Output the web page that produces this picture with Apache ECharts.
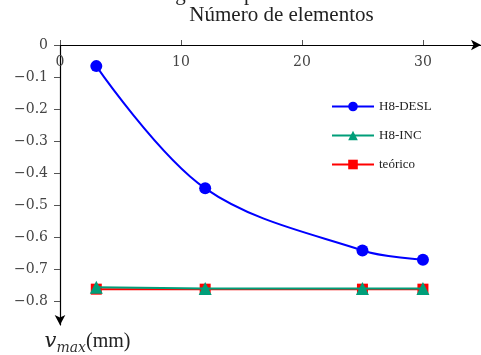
<!DOCTYPE html>
<html>
<head>
<meta charset="utf-8">
<script src="https://cdn.jsdelivr.net/npm/echarts@6/dist/echarts.min.js"></script>
<style>
html,body{margin:0;padding:0;background:#fff;}
#chart{width:481px;height:355px;}
</style>
</head>
<body>
<div id="chart"></div>
<script>
var elementos = [3, 12, 25, 30];
var h8Desl = [-0.066, -0.448, -0.642, -0.671];
var h8Inc = [-0.757, -0.761, -0.761, -0.761];
var teorico = [-0.763, -0.763, -0.763, -0.763];
var xTicks = [0, 10, 20, 30];
var yTicks = [0, -0.1, -0.2, -0.3, -0.4, -0.5, -0.6, -0.7, -0.8];
var seriesNames = ['H8-DESL', 'H8-INC', 'teórico'];

function pairs(xs, ys) { return xs.map(function (x, i) { return [x, ys[i]]; }); }

var font = '"Liberation Serif", "DejaVu Serif", serif';
var numFont = '"DejaVu Serif", serif';
var chart = echarts.init(document.getElementById('chart'));
chart.setOption({
  animation: false,
  backgroundColor: '#fff',
  grid: { left: 60, top: 44, right: 0, bottom: 27 },
  graphic: [{
    type: 'text', left: 150, top: -16,
    style: { text: 'carga de superfície', font: '21px ' + font, fill: '#222' }
  }],
  legend: {
    orient: 'vertical', left: 326, top: 95,
    itemWidth: 42, itemHeight: 12, itemGap: 16,
    textStyle: { fontFamily: font, fontSize: 13, color: '#222' },
    data: seriesNames
  },
  xAxis: {
    type: 'value', position: 'top', min: 0, max: 34.8,
    name: 'Número de elementos', nameLocation: 'middle', nameGap: 19,
    nameTextStyle: { fontFamily: font, fontSize: 21, color: '#222', padding: [0, 0, 0, 22] },
    axisLine: { onZero: false, lineStyle: { color: '#000', width: 1.2 }, symbol: ['none', 'arrow'], symbolSize: [8, 10] },
    axisTick: { inside: false, length: 5, lineStyle: { color: '#555' }, customValues: xTicks },
    axisLabel: { inside: true, margin: 10, fontFamily: numFont, fontSize: 14, color: '#444', customValues: xTicks },
    splitLine: { show: false }
  },
  yAxis: {
    type: 'value', min: -0.875, max: 0,
    name: '{v|v}{s|max}{n|(mm)}', nameLocation: 'start', nameGap: 6,
    nameTextStyle: {
      padding: [0, 0, 0, 55],
      rich: {
        v: { fontFamily: numFont, fontStyle: 'italic', fontSize: 21, color: '#222' },
        s: { fontFamily: numFont, fontStyle: 'italic', fontSize: 14, color: '#333', verticalAlign: 'bottom', padding: [0, 0, -3, 0] },
        n: { fontFamily: font, fontSize: 20, color: '#222' }
      }
    },
    axisLine: { onZero: false, lineStyle: { color: '#000', width: 1.2 }, symbol: ['arrow', 'none'], symbolSize: [8, 10] },
    axisTick: { inside: false, length: 6, lineStyle: { color: '#555' }, customValues: yTicks },
    axisLabel: {
      margin: 12, fontFamily: numFont, fontSize: 14, color: '#444', customValues: yTicks,
      formatter: function (v) { return v === 0 ? '0' : '\u2212' + Math.abs(v).toFixed(1); }
    },
    splitLine: { show: false }
  },
  series: [
    {
      name: seriesNames[0], type: 'line', smooth: 0.35, data: pairs(elementos, h8Desl),
      symbol: 'circle', symbolSize: 12, z: 4,
      itemStyle: { color: '#0000ff' }, lineStyle: { color: '#0000ff', width: 2 }
    },
    {
      name: seriesNames[1], type: 'line', data: pairs(elementos, h8Inc),
      symbol: 'triangle', symbolSize: 13, z: 3,
      itemStyle: { color: '#009e79' }, lineStyle: { color: '#009e79', width: 2 }
    },
    {
      name: seriesNames[2], type: 'line', data: pairs(elementos, teorico),
      symbol: 'rect', symbolSize: 11, z: 2,
      itemStyle: { color: '#ff0000' }, lineStyle: { color: '#ff0000', width: 2 }
    }
  ]
});
</script>
</body>
</html>
